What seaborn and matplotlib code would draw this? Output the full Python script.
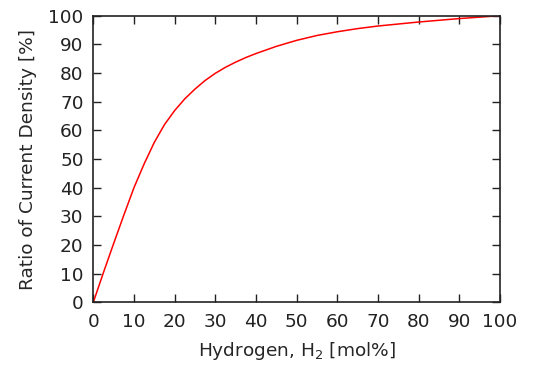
import matplotlib
matplotlib.use("Agg")
import matplotlib.pyplot as plt
import seaborn as sns
import pandas as pd

hydrogen = [0, 2.5, 5, 7.5, 10, 12.5, 15, 17.5, 20, 22.5, 25, 27.5, 30, 32.5, 35,
            37.5, 40, 45, 50, 55, 60, 65, 70, 75, 80, 85, 90, 95, 100]
ratio = [0, 10.4, 20.5, 30.4, 40.0, 48.3, 55.8, 62.0, 66.9, 71.0, 74.4, 77.4, 79.9,
         82.0, 83.8, 85.4, 86.8, 89.3, 91.4, 93.1, 94.4, 95.5, 96.4, 97.1, 97.8,
         98.4, 99.0, 99.5, 100]
xticks = list(range(0, 101, 10))
yticks = list(range(0, 101, 10))

df = pd.DataFrame({"x": hydrogen, "y": ratio})

sns.set_style("ticks")
plt.rcParams["font.family"] = ["DejaVu Sans"]
plt.rcParams["mathtext.default"] = "regular"

fig = plt.figure(figsize=(5.33, 3.67), dpi=100)
ax = fig.add_axes([93.3 / 533, (367 - 302.3) / 367, (500 - 93.3) / 533, (302.3 - 15.7) / 367])

sns.lineplot(data=df, x="x", y="y", ax=ax, color="#ff0000", linewidth=1.1)

ax.set_xlim(0, 100)
ax.set_ylim(0, 100)
ax.set_xticks(xticks)
ax.set_yticks(yticks)
ax.tick_params(direction="in", length=6, width=1, top=True, right=True,
               labelsize=13.3, colors="#222222")
ax.tick_params(axis="x", pad=8)
ax.tick_params(axis="y", pad=7)
for s in ax.spines.values():
    s.set_linewidth(1.2)
    s.set_color("#222222")
ax.set_xlabel("Hydrogen, H$_2$ [mol%]", fontsize=13.3, labelpad=6)
ax.set_ylabel("Ratio of Current Density [%]", fontsize=13.3, labelpad=8)

fig.savefig("out.png", dpi=100)
